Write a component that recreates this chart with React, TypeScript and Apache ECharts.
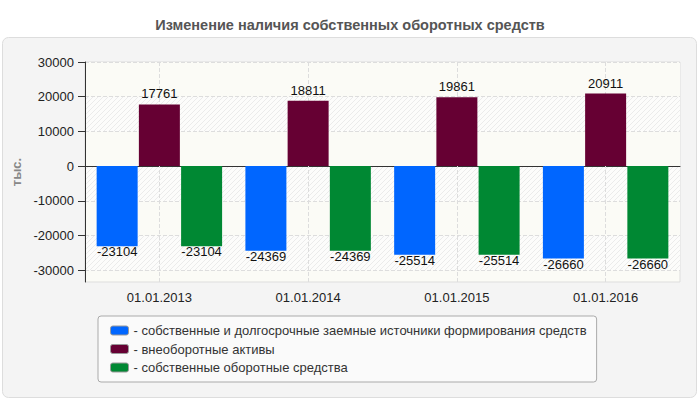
import React, { useEffect, useRef } from "react";
import * as echarts from "echarts";

const categories = ["01.01.2013", "01.01.2014", "01.01.2015", "01.01.2016"];
const seriesNames = [
  "собственные и долгосрочные заемные источники формирования средств",
  "внеоборотные активы",
  "собственные оборотные средства",
];
const ownLongTerm = [-23104, -24369, -25514, -26660];
const nonCurrent = [17761, 18811, 19861, 20911];
const workingCapital = [-23104, -24369, -25514, -26660];
const yTicks = [-30000, -20000, -10000, 0, 10000, 20000, 30000];
const colors = ["#0066ff", "#660033", "#008833"];

const FONT = "Liberation Sans, Arial, sans-serif";

const hatchSvg =
  '<svg xmlns="http://www.w3.org/2000/svg" width="5" height="5">' +
  '<rect width="5" height="5" fill="#fcfcfb"/>' +
  '<path d="M-1,6 L6,-1 M-1,1 L1,-1 M4,6 L6,4" stroke="#ebebeb" stroke-width="1"/>' +
  "</svg>";
const hatchUrl = "data:image/svg+xml;utf8," + encodeURIComponent(hatchSvg);

export default function App() {
  const ref = useRef<HTMLDivElement>(null);
  useEffect(() => {
    if (!ref.current) return;
    const chart = echarts.init(ref.current, undefined, { renderer: "svg" });
    const barLabel = (pos: string, distance: number) => ({
      show: true,
      position: pos,
      distance,
      color: "#111",
      fontSize: 13,
      fontFamily: FONT,
    });
    const hatch = { image: hatchUrl, repeat: "repeat", imageWidth: 5, imageHeight: 5 };
    chart.setOption({
      animation: false,
      textStyle: { fontFamily: FONT },
      title: {
        text: "Изменение наличия собственных оборотных средств",
        left: "center",
        top: 12,
        textStyle: { fontSize: 14.5, fontWeight: "bold", color: "#555", fontFamily: FONT },
      },
      graphic: [
        {
          type: "rect",
          z: -10,
          silent: true,
          shape: { x: 2.5, y: 37.5, width: 694, height: 360, r: 6 },
          style: { fill: "#f4f4f4", stroke: "#dddddd", lineWidth: 1 },
        },
      ],
      grid: {
        left: 85,
        right: 20,
        top: 62,
        bottom: 118,
        show: true,
        backgroundColor: "#fbfbf6",
        borderColor: "#dddddd",
        borderWidth: 1,
      },
      legend: {
        orient: "vertical",
        left: 98,
        top: 316,
        padding: [7, 10, 7, 12],
        itemGap: 3.5,
        itemWidth: 18,
        itemHeight: 9,
        itemTextGap: 3,
        icon: "roundRect",
        backgroundColor: "#fafafa",
        borderColor: "#aaaaaa",
        borderWidth: 1,
        borderRadius: 3,
        data: seriesNames,
        formatter: (n: string) => "- " + n,
        itemStyle: { borderColor: "#999", borderWidth: 1 },
        textStyle: { fontSize: 13, color: "#333", lineHeight: 15, fontFamily: FONT },
      },
      xAxis: {
        type: "category",
        data: categories,
        axisLine: { lineStyle: { color: "#333", width: 1 } },
        axisTick: { alignWithLabel: true, length: 6, lineStyle: { color: "#333" } },
        axisLabel: { color: "#222", fontSize: 13, margin: 9, fontFamily: FONT },
        splitLine: { show: false },
      },
      yAxis: {
        type: "value",
        min: -33400,
        max: 30000,
        name: "тыс.",
        nameLocation: "middle",
        nameGap: 62,
        nameRotate: 90,
        nameTextStyle: { color: "#888", fontSize: 13, fontWeight: "bold", fontFamily: FONT },
        axisLine: { show: true, lineStyle: { color: "#333", width: 1 } },
        axisTick: { show: true, length: 7, customValues: yTicks, lineStyle: { color: "#333" } },
        axisLabel: {
          color: "#222",
          fontSize: 13,
          margin: 11,
          customValues: yTicks,
          fontFamily: FONT,
          formatter: (v: number) => String(v),
        },
        splitLine: { show: true, lineStyle: { color: "#dddddd", type: "dashed" } },
        splitArea: { show: true, areaStyle: { color: [hatch, "#fbfbf6"] } },
      },
      series: [
        {
          type: "line",
          data: [],
          z: 1,
          silent: true,
          markLine: {
            z: 1,
            silent: true,
            symbol: ["none", "none"],
            label: { show: false },
            lineStyle: { color: "#dddddd", type: "dashed", width: 1 },
            data: categories.map((c) => ({ xAxis: c })),
          },
        },
        {
          name: seriesNames[0],
          type: "bar",
          z: 3,
          barWidth: 41,
          barGap: "3%",
          data: ownLongTerm,
          itemStyle: { color: colors[0] },
          label: barLabel("bottom", -1),
        },
        {
          name: seriesNames[1],
          type: "bar",
          z: 3,
          barWidth: 41,
          barGap: "3%",
          data: nonCurrent,
          itemStyle: { color: colors[1] },
          label: barLabel("top", 4),
        },
        {
          name: seriesNames[2],
          type: "bar",
          z: 3,
          barWidth: 41,
          barGap: "3%",
          data: workingCapital,
          itemStyle: { color: colors[2] },
          label: barLabel("bottom", -1),
        },
      ],
    });
    return () => chart.dispose();
  }, []);
  return (
    <div
      ref={ref}
      style={{ position: "absolute", left: 0, top: 0, width: 700, height: 400 }}
    />
  );
}
